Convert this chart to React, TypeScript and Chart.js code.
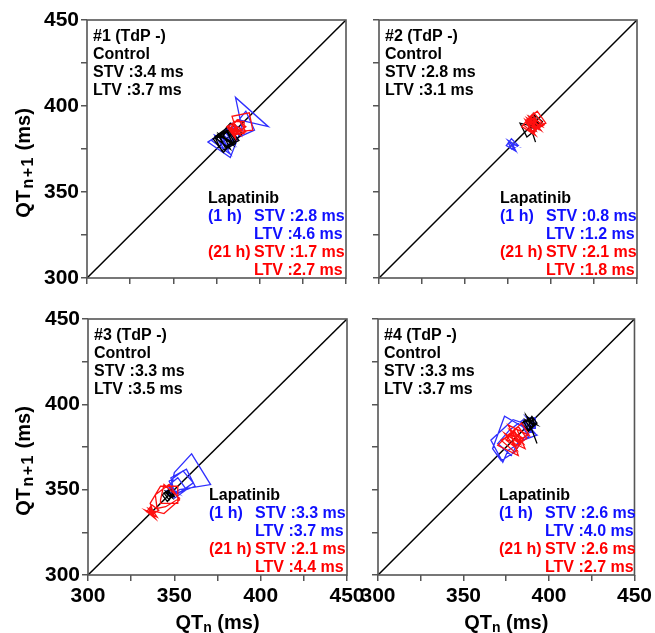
import React, { useEffect, useRef } from 'react';
import { Chart, registerables } from 'chart.js';

Chart.register(...registerables);

// ---------- data ----------
const AXIS_MIN = 300;
const AXIS_MAX = 450;
const TICK_STEP = 25;
const LABEL_STEP = 50;
const diagonal = [300, 450];

// beat-to-beat QT series (ms); Poincaré points are (QTn, QTn+1)
const p1Control = [379, 383, 375, 381, 386, 378, 374, 382, 388, 380, 376, 384, 379, 373, 381, 385, 377, 383, 390, 384, 378, 382, 386, 380, 376, 383, 379];
const p1Lap1h = [381, 376, 383, 372, 380, 385, 378, 384, 390, 386, 405, 388, 392, 397, 386, 381, 377, 384, 388, 383, 370, 379, 385, 382, 375, 381, 387, 380, 374, 383, 379];
const p1Lap21h = [384, 386, 382, 388, 385, 391, 391, 384, 384, 389, 387, 384, 394, 396, 386, 385, 389, 383, 387, 392, 388, 385, 386, 381, 388, 392, 385, 383, 386];

const p2Control = [389, 391, 388, 393, 390, 387, 392, 389, 391, 386, 390, 394, 389, 388, 392, 390, 395, 391, 386, 382, 390, 388, 393, 387, 391, 379];
const p2Lap1h = [377, 379, 375, 380, 377, 378, 376, 379, 374, 377, 381, 377, 375, 379];
const p2Lap21h = [388, 391, 386, 393, 389, 385, 392, 387, 394, 390, 384, 389, 395, 388, 391, 386, 390, 393, 387, 390, 396, 389, 385, 391, 383, 388, 394, 386, 392, 397, 390, 387, 392];

const p3Control = [346, 348, 345, 349, 347, 344, 348, 350, 346, 347, 349, 345, 348, 346, 343, 347, 350, 348];
const p3Lap1h = [346, 349, 347, 352, 348, 350, 360, 371, 353, 350, 348, 357, 362, 352, 348, 346, 352, 357, 350, 345, 349, 351, 347, 355, 361, 354, 349, 347];
const p3Lap21h = [337, 335, 339, 333, 338, 336, 340, 334, 337, 341, 338, 336, 342, 352, 352, 342, 342, 344, 353, 345, 340, 339, 347, 353, 344, 336, 338, 335, 339, 337];

const p4Control = [388, 391, 387, 393, 388, 390, 393, 389, 386, 391, 388, 385, 390, 392, 388, 384, 389, 391, 387, 393, 377];
const p4Lap1h = [388, 392, 392, 386, 386, 390, 385, 380, 372, 367, 374, 393, 382, 378, 370, 377, 385, 391, 384, 388, 381, 376, 373, 366, 379, 391, 387, 392, 388];
const p4Lap21h = [378, 381, 374, 383, 377, 385, 380, 372, 379, 383, 376, 388, 382, 379, 385, 377, 381, 386, 374, 380, 384, 378, 382, 370, 376, 382, 387, 380, 375, 379, 384, 389, 381];

const panelTitles = ['#1 (TdP -)', '#2 (TdP -)', '#3 (TdP -)', '#4 (TdP -)'];
const controlSTV = [3.4, 2.8, 3.3, 3.3];
const controlLTV = [3.7, 3.1, 3.5, 3.7];
const lap1hSTV = [2.8, 0.8, 3.3, 2.6];
const lap1hLTV = [4.6, 1.2, 3.7, 4.0];
const lap21hSTV = [1.7, 2.1, 2.1, 2.6];
const lap21hLTV = [2.7, 1.8, 4.4, 2.7];

const controlSeries = [p1Control, p2Control, p3Control, p4Control];
const lap1hSeries = [p1Lap1h, p2Lap1h, p3Lap1h, p4Lap1h];
const lap21hSeries = [p1Lap21h, p2Lap21h, p3Lap21h, p4Lap21h];

// ---------- layout / style ----------
const W = 655;
const H = 633;
const Y_AXIS_W = 45;
const X_AXIS_H = 30;
const FONT = '"Liberation Sans", Arial, Helvetica, sans-serif';
const BLUE_LINE = '#3030ff';
const RED_LINE = '#ff1010';
const BLUE_TEXT = '#1010ff';
const RED_TEXT = '#ff0000';
const AXIS_COLOR = '#555';

const PANELS = [
  { left: 87, top: 20, right: 346, bottom: 278, yLabels: true, xLabels: false, yTitle: true, xTitle: false },
  { left: 379, top: 20, right: 637, bottom: 278, yLabels: false, xLabels: false, yTitle: false, xTitle: false },
  { left: 88, top: 319, right: 347, bottom: 575, yLabels: true, xLabels: true, yTitle: true, xTitle: true },
  { left: 378, top: 319, right: 637, bottom: 575, yLabels: false, xLabels: true, yTitle: false, xTitle: true },
];

const toPoints = (s: number[]) => s.slice(0, -1).map((v, i) => ({ x: v, y: s[i + 1] }));
const fmt = (v: number) => v.toFixed(1);

function drawQT(ctx: CanvasRenderingContext2D, sub: string, x: number, y: number, subSize: number, subGap: number) {
  // draws "QT<sub> (ms)" centered at x with baseline y (in current transform)
  const big = `bold 20px ${FONT}`;
  const small = `bold ${subSize}px ${FONT}`;
  ctx.font = big;
  const w1 = ctx.measureText('QT').width;
  const w3 = ctx.measureText(' (ms)').width;
  ctx.font = small;
  const chars = sub.split('');
  const cw = chars.map((c) => ctx.measureText(c).width);
  const w2 = cw.reduce((s, v) => s + v, 0) + subGap * (chars.length + 1);
  const total = w1 + w2 + w3;
  let cx = x - total / 2;
  ctx.textAlign = 'left';
  ctx.textBaseline = 'alphabetic';
  ctx.fillStyle = '#000';
  ctx.font = big;
  ctx.fillText('QT', cx, y);
  cx += w1 + subGap;
  ctx.font = small;
  chars.forEach((c, k) => {
    ctx.fillText(c, cx, y + 3);
    cx += cw[k] + subGap;
  });
  ctx.font = big;
  ctx.fillText(' (ms)', cx, y);
}

function buildConfig(i: number): any {
  const p = PANELS[i];
  const panelPlugin = {
    id: 'panelDecor' + i,
    afterDraw(chart: any) {
      const ctx: CanvasRenderingContext2D = chart.ctx;
      const a = chart.chartArea;
      ctx.save();
      // frame
      ctx.strokeStyle = AXIS_COLOR;
      ctx.lineWidth = 1.6;
      ctx.strokeRect(a.left, a.top, a.right - a.left, a.bottom - a.top);

      // control block
      ctx.font = `bold 16px ${FONT}`;
      ctx.textBaseline = 'middle';
      ctx.textAlign = 'left';
      ctx.fillStyle = '#000';
      const cLines = [panelTitles[i], 'Control', `STV :${fmt(controlSTV[i])} ms`, `LTV :${fmt(controlLTV[i])} ms`];
      cLines.forEach((t, k) => ctx.fillText(t, a.left + 6, a.top + 17 + 18 * k));

      // lapatinib block
      const by = a.bottom - 79;
      const dy = 17.8;
      const xl = a.left + 121;
      const xs = a.left + 167;
      ctx.fillStyle = '#000';
      ctx.fillText('Lapatinib', xl, by);
      ctx.fillStyle = BLUE_TEXT;
      ctx.fillText('(1 h)', xl, by + dy);
      ctx.fillText(`STV :${fmt(lap1hSTV[i])} ms`, xs, by + dy);
      ctx.fillText(`LTV :${fmt(lap1hLTV[i])} ms`, xs, by + 2 * dy);
      ctx.fillStyle = RED_TEXT;
      ctx.fillText('(21 h)', xl, by + 3 * dy);
      ctx.fillText(`STV :${fmt(lap21hSTV[i])} ms`, xs, by + 3 * dy);
      ctx.fillText(`LTV :${fmt(lap21hLTV[i])} ms`, xs, by + 4 * dy);

      // axis titles
      if (p.yTitle) {
        ctx.save();
        ctx.translate(30, (a.top + a.bottom) / 2 + 14);
        ctx.rotate(-Math.PI / 2);
        drawQT(ctx, 'n+1', 0, 0, 16, 1.5);
        ctx.restore();
      }
      if (p.xTitle) {
        drawQT(ctx, 'n', (a.left + a.right) / 2, 629, 14, 0);
      }
      ctx.restore();
    },
  };

  const tickFont = { family: FONT, size: 21, weight: 'bold' as const };

  const line = (label: string, series: number[], color: string, order: number) => ({
    label,
    data: toPoints(series),
    showLine: true,
    borderColor: color,
    borderWidth: 1.3,
    pointRadius: 0,
    tension: 0,
    order,
  });

  return {
    type: 'scatter',
    data: {
      datasets: [
        line('21 h', lap21hSeries[i], RED_LINE, 1),
        line('Control', controlSeries[i], '#000', 2),
        line('1 h', lap1hSeries[i], BLUE_LINE, 3),
        {
          label: 'identity',
          data: [
            { x: diagonal[0], y: diagonal[0] },
            { x: diagonal[1], y: diagonal[1] },
          ],
          showLine: true,
          borderColor: '#000',
          borderWidth: 1.5,
          pointRadius: 0,
          order: 4,
        },
      ],
    },
    options: {
      responsive: false,
      animation: false,
      devicePixelRatio: 1,
      layout: {
        padding: {
          left: p.left - Y_AXIS_W,
          top: p.top,
          right: W - p.right,
          bottom: H - p.bottom - X_AXIS_H,
        },
      },
      plugins: { legend: { display: false }, tooltip: { enabled: false } },
      scales: {
        x: {
          type: 'linear',
          min: AXIS_MIN,
          max: AXIS_MAX,
          ticks: {
            stepSize: TICK_STEP,
            autoSkip: false,
            maxRotation: 0,
            padding: 3,
            color: '#000',
            font: tickFont,
            callback: (v: number) => (p.xLabels && v % LABEL_STEP === 0 ? String(v) : ''),
          },
          grid: { drawOnChartArea: false, drawTicks: true, tickLength: 6, color: AXIS_COLOR, lineWidth: 1.5 },
          border: { display: false },
          afterFit: (s: any) => {
            s.height = X_AXIS_H;
          },
        },
        y: {
          type: 'linear',
          min: AXIS_MIN,
          max: AXIS_MAX,
          ticks: {
            stepSize: TICK_STEP,
            autoSkip: false,
            padding: 2,
            color: '#000',
            font: tickFont,
            callback: (v: number) => (p.yLabels && v % LABEL_STEP === 0 ? String(v) : ''),
          },
          grid: { drawOnChartArea: false, drawTicks: true, tickLength: 6, color: AXIS_COLOR, lineWidth: 1.5 },
          border: { display: false },
          afterFit: (s: any) => {
            s.width = Y_AXIS_W;
          },
        },
      },
    },
    plugins: [panelPlugin],
  };
}

export default function App() {
  const r0 = useRef<HTMLCanvasElement>(null);
  const r1 = useRef<HTMLCanvasElement>(null);
  const r2 = useRef<HTMLCanvasElement>(null);
  const r3 = useRef<HTMLCanvasElement>(null);
  const refs = [r0, r1, r2, r3];

  useEffect(() => {
    const charts = refs.map((r, i) => new Chart(r.current as HTMLCanvasElement, buildConfig(i)));
    return () => charts.forEach((c) => c.destroy());
  }, []);

  return (
    <div style={{ position: 'absolute', left: 0, top: 0, width: W, height: H, background: '#fff' }}>
      {refs.map((r, i) => (
        <canvas
          key={i}
          ref={r}
          width={W}
          height={H}
          style={{ position: 'absolute', left: 0, top: 0, width: W, height: H }}
        />
      ))}
    </div>
  );
}
